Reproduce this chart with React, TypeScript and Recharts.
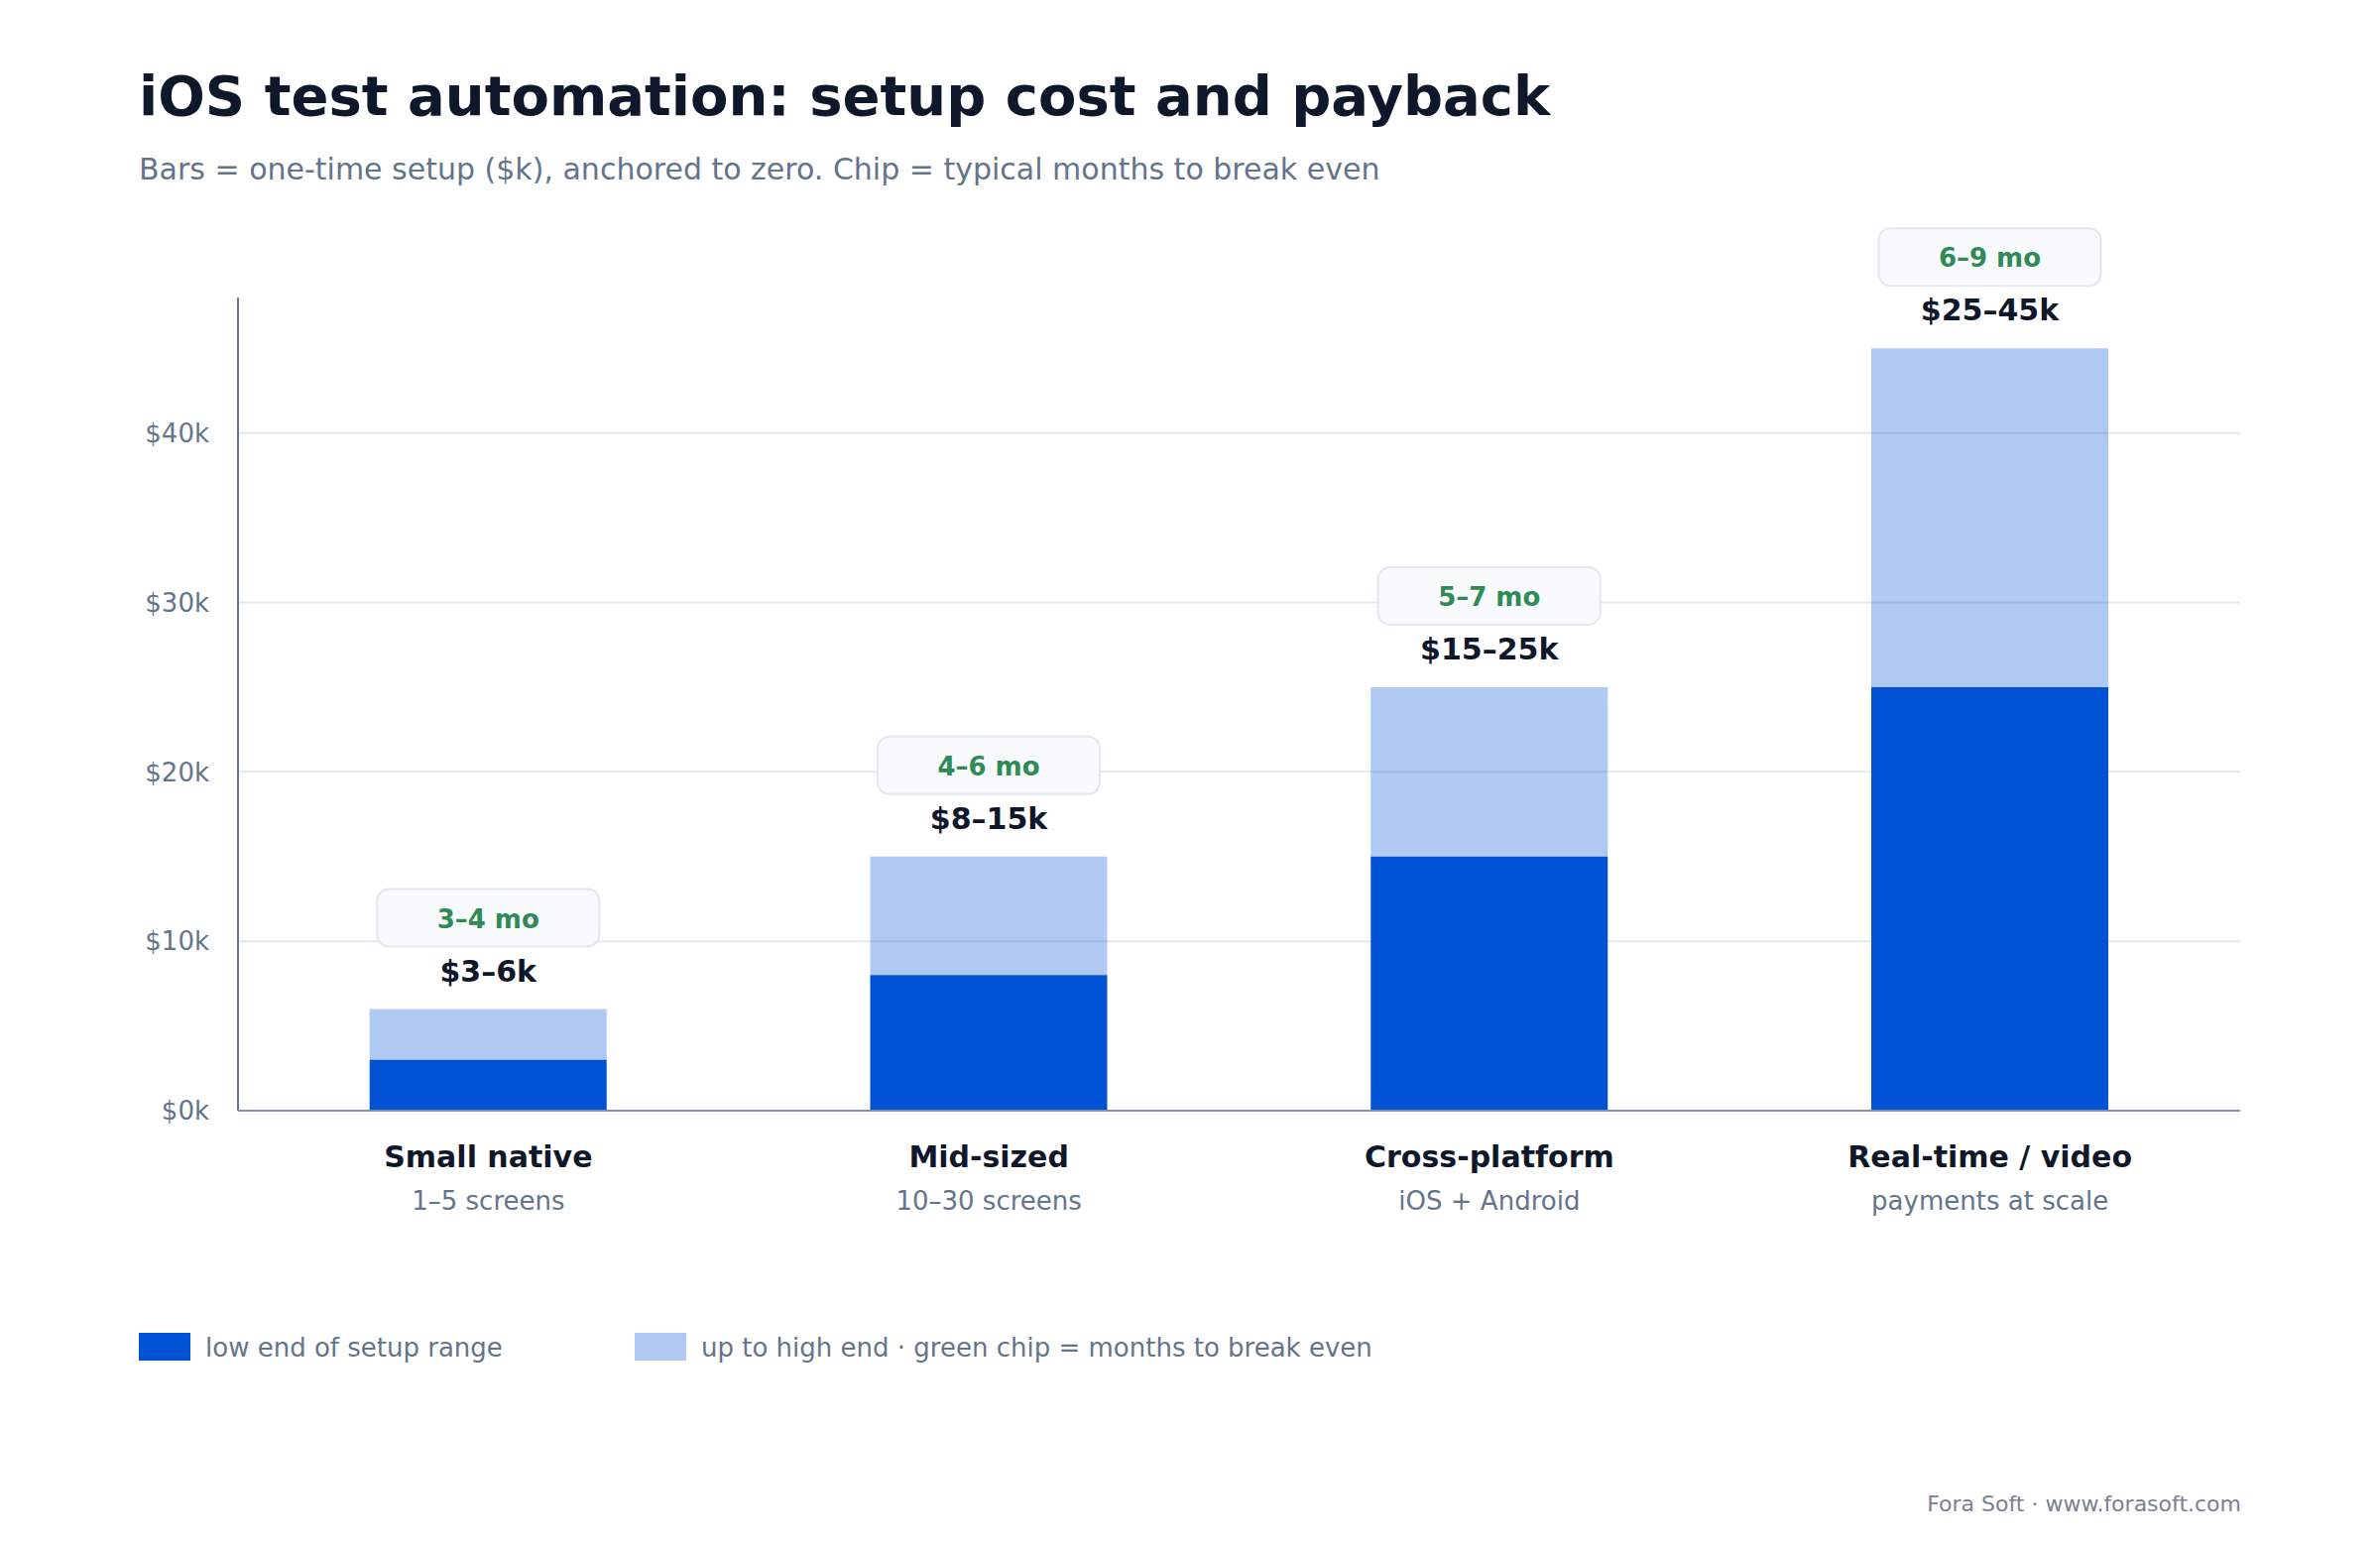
import React from 'react';
import { Bar, BarChart, CartesianGrid, LabelList, XAxis, YAxis } from 'recharts';

// chart values
const categories = ['Small native', 'Mid-sized', 'Cross-platform', 'Real-time / video'];
const subLabels = ['1–5 screens', '10–30 screens', 'iOS + Android', 'payments at scale'];
const lowEnd = [3, 8, 15, 25]; // $k
const highEnd = [6, 15, 25, 45]; // $k
const rangeLabels = ['$3–6k', '$8–15k', '$15–25k', '$25–45k'];
const payback = ['3–4 mo', '4–6 mo', '5–7 mo', '6–9 mo'];
const yTicks = [0, 10, 20, 30, 40];

const rows = categories.map((name, i) => ({
    name,
    low: lowEnd[i],
    upper: highEnd[i] - lowEnd[i],
}));

const FONT = '"DejaVu Sans", sans-serif';
const BLUE = '#0052D4';

function CategoryTick(props: any) {
    const { x, y, payload, index } = props;
    const i = payload?.index ?? index;
    return (
        <g>
            <text x={x} y={y + 57} textAnchor="middle" fontSize={30} fontWeight={700} fill="#0F172A" fontFamily={FONT}>
                {payload.value}
            </text>
            <text x={x} y={y + 100} textAnchor="middle" fontSize={26} fill="#64748B" fontFamily={FONT}>
                {subLabels[i]}
            </text>
        </g>
    );
}

function TopLabel(props: any) {
    const { x, y, width, index } = props;
    const cx = x + width / 2;
    return (
        <g>
            <rect x={cx - 112} y={y - 121} width={224} height={58} rx={12} ry={12} fill="#F8FAFC" stroke="#E2E8F0" strokeWidth={2} />
            <text x={cx} y={y - 82} textAnchor="middle" fontSize={26} fontWeight={700} fill="#2E8B57" fontFamily={FONT}>
                {payback[index]}
            </text>
            <text x={cx} y={y - 28} textAnchor="middle" fontSize={30} fontWeight={700} fill="#0F172A" fontFamily={FONT}>
                {rangeLabels[index]}
            </text>
        </g>
    );
}

export default function App() {
    return (
        <div style={{ position: 'absolute', left: 0, top: 0, width: 2400, height: 1560, background: '#fff', fontFamily: FONT }}>
            <BarChart
                width={2400}
                height={1560}
                data={rows}
                margin={{ top: 300, right: 141, bottom: 320, left: 140 }}
                barCategoryGap="26.3%"
            >
                <CartesianGrid vertical={false} horizontalValues={yTicks} stroke="#E2E8F0" strokeWidth={2} />
                <YAxis
                    width={100}
                    domain={[0, 48]}
                    ticks={yTicks}
                    tickFormatter={(v: number) => `$${v}k`}
                    tick={{ fontSize: 26, fill: '#64748B', fontFamily: FONT }}
                    tickLine={false}
                    tickSize={0}
                    tickMargin={29}
                    axisLine={{ stroke: '#64748B', strokeWidth: 2 }}
                    allowDataOverflow
                />
                <XAxis
                    dataKey="name"
                    height={120}
                    tick={<CategoryTick />}
                    tickLine={false}
                    tickSize={0}
                    tickMargin={0}
                    interval={0}
                    axisLine={{ stroke: '#8391A7', strokeWidth: 2 }}
                />
                <Bar dataKey="low" stackId="a" fill={BLUE} isAnimationActive={false} />
                <Bar dataKey="upper" stackId="a" fill={BLUE} fillOpacity={0.31} isAnimationActive={false}>
                    <LabelList dataKey="upper" content={<TopLabel />} />
                </Bar>
            </BarChart>

            <svg width={2400} height={1560} style={{ position: 'absolute', left: 0, top: 0, pointerEvents: 'none' }}>
                <text x={140} y={116} fontSize={56} fontWeight={700} fill="#0F172A" fontFamily={FONT}>
                    iOS test automation: setup cost and payback
                </text>
                <text x={140} y={181} fontSize={30} fill="#64748B" fontFamily={FONT}>
                    Bars = one-time setup ($k), anchored to zero. Chip = typical months to break even
                </text>

                {/* legend */}
                <rect x={140} y={1344} width={52} height={28} fill={BLUE} />
                <text x={207} y={1368} fontSize={26} fill="#64748B" fontFamily={FONT}>
                    low end of setup range
                </text>
                <rect x={640} y={1344} width={52} height={28} fill={BLUE} fillOpacity={0.31} />
                <text x={707} y={1368} fontSize={26} fill="#64748B" fontFamily={FONT}>
                    up to high end · green chip = months to break even
                </text>

                <text x={2260} y={1524} textAnchor="end" fontSize={22} fill="#7B8190" fontFamily={FONT}>
                    Fora Soft · www.forasoft.com
                </text>
            </svg>
        </div>
    );
}
